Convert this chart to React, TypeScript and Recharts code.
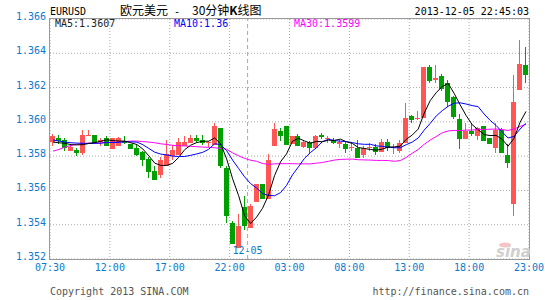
import {
  ComposedChart,
  Bar,
  Line,
  XAxis,
  YAxis,
  CartesianGrid,
  ReferenceLine,
  ReferenceArea,
} from "recharts";

// 30 minute EURUSD candles, 07:30 (12-04) .. 23:00 (12-05)
const timeLabels = ["07:30", "12:00", "17:00", "22:00", "03:00", "08:00", "13:00", "18:00", "23:00"];
const candlesPerLabel = 10;
const priceTicks = [1.352, 1.354, 1.356, 1.358, 1.36, 1.362, 1.364, 1.366];
const dayBreak = 33;
const dayLabel = "12-05";

const opens = [
  1.35884, 1.35906, 1.35892, 1.35832, 1.35835, 1.35816, 1.35918, 1.35921, 1.35884, 1.35904,
  1.35841, 1.35861, 1.35891, 1.35869, 1.3585, 1.35824, 1.35781, 1.35712, 1.35691, 1.35745,
  1.358, 1.35809, 1.35861, 1.35877, 1.35906, 1.35894, 1.35875, 1.35865, 1.35965, 1.35731,
  1.35412, 1.35266, 1.35506, 1.35382, 1.35535, 1.35635, 1.35551, 1.35862, 1.35947, 1.35976,
  1.35872, 1.35918, 1.35855, 1.35882, 1.35845, 1.35924, 1.359, 1.35897, 1.35872, 1.35872,
  1.3585, 1.35849, 1.35806, 1.35847, 1.35855, 1.35824, 1.35882, 1.35847, 1.35829, 1.35878,
  1.36035, 1.36018, 1.36025, 1.36319, 1.36243, 1.36265, 1.36224, 1.36147, 1.36018, 1.35902,
  1.35947, 1.35918, 1.35976, 1.35908, 1.35849, 1.3595, 1.35808, 1.3552, 1.36185, 1.36329,
];
const highs = [
  1.35928, 1.35924, 1.35908, 1.35871, 1.35849, 1.35953, 1.35953, 1.35926, 1.35906, 1.35918,
  1.35908, 1.35909, 1.35918, 1.35872, 1.35869, 1.35829, 1.35794, 1.35741, 1.35796, 1.35894,
  1.35863, 1.35908, 1.35916, 1.35924, 1.35925, 1.35924, 1.35891, 1.35996, 1.35966, 1.35741,
  1.35424, 1.35465, 1.35565, 1.35519, 1.35637, 1.35635, 1.3581, 1.35996, 1.35966, 1.35976,
  1.35919, 1.35931, 1.35888, 1.35888, 1.35924, 1.35937, 1.35918, 1.35908, 1.35892, 1.35888,
  1.35875, 1.35892, 1.35859, 1.35878, 1.35869, 1.35898, 1.35898, 1.35869, 1.35894, 1.36108,
  1.36039, 1.36065, 1.36319, 1.36333, 1.36332, 1.3628, 1.36245, 1.36153, 1.36045, 1.35996,
  1.35996, 1.35971, 1.35976, 1.35908, 1.35996, 1.35962, 1.35869, 1.36276, 1.36476, 1.36435,
];
const lows = [
  1.35861, 1.35872, 1.35829, 1.35829, 1.358, 1.35806, 1.35918, 1.35871, 1.35861, 1.35857,
  1.35841, 1.35857, 1.35869, 1.35841, 1.358, 1.35745, 1.35672, 1.35659, 1.35671, 1.35745,
  1.35775, 1.35809, 1.35861, 1.35875, 1.35879, 1.35863, 1.35855, 1.35863, 1.35731, 1.35408,
  1.3529, 1.35266, 1.35372, 1.35382, 1.35535, 1.35549, 1.35551, 1.35859, 1.35888, 1.35863,
  1.35872, 1.35859, 1.35845, 1.35812, 1.35845, 1.35898, 1.35878, 1.35872, 1.35849, 1.35819,
  1.35832, 1.3579, 1.3579, 1.35829, 1.35806, 1.35824, 1.35829, 1.3581, 1.35819, 1.35878,
  1.35996, 1.3601, 1.36025, 1.36225, 1.36226, 1.36182, 1.36084, 1.36016, 1.35844, 1.35902,
  1.35918, 1.35892, 1.35888, 1.35872, 1.35819, 1.35819, 1.35731, 1.35448, 1.36185, 1.36226,
];
const closes = [
  1.35919, 1.35888, 1.3585, 1.35853, 1.35818, 1.35924, 1.35925, 1.35875, 1.35892, 1.35861,
  1.35904, 1.35906, 1.35877, 1.35843, 1.35809, 1.35777, 1.35706, 1.35659, 1.35777, 1.35812,
  1.35835, 1.35882, 1.35882, 1.35908, 1.35888, 1.35874, 1.35882, 1.35976, 1.35741, 1.35449,
  1.3529, 1.35394, 1.35392, 1.35509, 1.35637, 1.35549, 1.35777, 1.35956, 1.35918, 1.35863,
  1.35919, 1.35862, 1.35881, 1.35849, 1.35919, 1.3591, 1.35906, 1.35878, 1.35884, 1.35844,
  1.35856, 1.3579, 1.3585, 1.35855, 1.35825, 1.35884, 1.35849, 1.35855, 1.35877, 1.36025,
  1.3601, 1.36025, 1.36319, 1.36241, 1.36255, 1.36192, 1.36115, 1.36029, 1.35902, 1.35947,
  1.35928, 1.35966, 1.35888, 1.35872, 1.3595, 1.35819, 1.35761, 1.36118, 1.36335, 1.36271,
];
const ma5 = [
  1.35882, 1.35878, 1.35875, 1.35867, 1.35866, 1.35867, 1.35874, 1.35879, 1.35887, 1.35895,
  1.35891, 1.35888, 1.35888, 1.35878, 1.35868, 1.35842, 1.35802, 1.35759, 1.35746, 1.35746,
  1.35758, 1.35793, 1.35838, 1.35864, 1.35879, 1.35887, 1.35887, 1.35906, 1.35872, 1.35784,
  1.35668, 1.3557, 1.35453, 1.35407, 1.35444, 1.35496, 1.35573, 1.35686, 1.35767, 1.35813,
  1.35887, 1.35904, 1.35889, 1.35875, 1.35886, 1.35884, 1.35893, 1.35892, 1.35899, 1.35884,
  1.35874, 1.3585, 1.35845, 1.35839, 1.35835, 1.35841, 1.35853, 1.35854, 1.35858, 1.35898,
  1.35923, 1.35958, 1.36051, 1.36124, 1.3617, 1.36206, 1.36224, 1.36166, 1.36099, 1.36037,
  1.35984, 1.35954, 1.35926, 1.3592, 1.35921, 1.35899, 1.35858, 1.35904, 1.35997, 1.36061,
];
const ma10 = [
  1.35894, 1.35888, 1.35882, 1.35878, 1.35876, 1.35875, 1.35875, 1.35875, 1.35876, 1.35881,
  1.35879, 1.35881, 1.35884, 1.35883, 1.35882, 1.35867, 1.35845, 1.35823, 1.35812, 1.35807,
  1.358, 1.35798, 1.35798, 1.35805, 1.35813, 1.35822, 1.3584, 1.35872, 1.35868, 1.35832,
  1.35777, 1.35728, 1.35679, 1.3564, 1.35614, 1.35582, 1.35571, 1.35569, 1.35587, 1.35629,
  1.35691, 1.35738, 1.35787, 1.35821, 1.35849, 1.35885, 1.35898, 1.35891, 1.35887, 1.35885,
  1.35879, 1.35872, 1.35869, 1.35869, 1.3586, 1.35857, 1.35852, 1.35849, 1.35849, 1.35867,
  1.35882, 1.35906, 1.35952, 1.35991, 1.36034, 1.36065, 1.36091, 1.36109, 1.36111, 1.36104,
  1.36095, 1.36089, 1.36046, 1.36009, 1.35979, 1.35942, 1.35906, 1.35915, 1.35958, 1.35991,
];
const ma30 = [
  1.35829, 1.35839, 1.35853, 1.35862, 1.35869, 1.35872, 1.35875, 1.35876, 1.35876, 1.35879,
  1.35881, 1.35882, 1.35885, 1.35888, 1.35888, 1.35885, 1.35882, 1.35878, 1.35872, 1.35868,
  1.35863, 1.35861, 1.35859, 1.35857, 1.35855, 1.35853, 1.35851, 1.35849, 1.35845, 1.3584,
  1.35819, 1.35802, 1.35787, 1.35776, 1.3577, 1.35757, 1.35752, 1.35755, 1.35756, 1.35756,
  1.35756, 1.35755, 1.35755, 1.35755, 1.35759, 1.35763, 1.3577, 1.35777, 1.35781, 1.35782,
  1.35783, 1.35779, 1.35778, 1.35777, 1.35775, 1.35775, 1.35774, 1.3577, 1.35774, 1.35793,
  1.35817, 1.35839, 1.35869, 1.35894, 1.35914, 1.35936, 1.35947, 1.3595, 1.35949, 1.35952,
  1.35952, 1.35956, 1.35956, 1.35957, 1.35958, 1.35955, 1.3595, 1.35958, 1.35973, 1.35987,
];

const data = closes.map((close, i) => ({
  x: i + 0.5,
  open: opens[i],
  high: highs[i],
  low: lows[i],
  close,
  range: [lows[i], highs[i]],
  ma5: ma5[i],
  ma10: ma10[i],
  ma30: ma30[i],
}));

const MONO = '"DejaVu Sans Mono", monospace';
const CJK = '"Noto Sans CJK SC", sans-serif';
const LABEL_BLUE = "#0a7ad0";
const UP = "#ff5555";
const DOWN = "#00a000";

// eslint-disable-next-line @typescript-eslint/no-explicit-any
function Candle(props: any) {
  const { x, y, width, height, payload } = props;
  if (x == null || !payload) return null;
  const { open, close, high, low } = payload;
  const color = close >= open ? UP : DOWN;
  const k = height / (high - low);
  const yOf = (v: number) => y + (high - v) * k;
  const top = Math.round(yOf(Math.max(open, close)));
  const bottom = Math.round(yOf(Math.min(open, close)));
  const left = Math.round(x);
  const w = Math.round(width);
  return (
    <g shapeRendering="crispEdges">
      <rect x={left + Math.floor(w / 2)} y={Math.round(y)} width={1} height={Math.max(1, Math.round(y + height) - Math.round(y))} fill={color} />
      <rect x={left} y={top} width={w} height={Math.max(1, bottom - top)} fill={color} />
    </g>
  );
}

// eslint-disable-next-line @typescript-eslint/no-explicit-any
function TimeTick({ x, y, payload }: any) {
  return (
    <text x={x} y={y + 8} textAnchor="middle" fontSize={10} fontFamily={MONO} fill={LABEL_BLUE}>
      {timeLabels[Math.round(payload.value / candlesPerLabel)]}
    </text>
  );
}

// eslint-disable-next-line @typescript-eslint/no-explicit-any
function PriceTick({ x, y, payload }: any) {
  return (
    <text x={x} y={y + 1} textAnchor="end" fontSize={10} fontFamily={MONO} fill={LABEL_BLUE}>
      {Number(payload.value).toFixed(3)}
    </text>
  );
}

// eslint-disable-next-line @typescript-eslint/no-explicit-any
function Frame(props: any) {
  const { x, y, width, height } = props;
  return (
    <rect
      x={Math.round(x) - 0.5}
      y={Math.round(y) - 0.5}
      width={Math.round(width) + 1}
      height={Math.round(height) + 1}
      fill="none"
      stroke="#999"
      strokeWidth={1}
    />
  );
}

export default function App() {
  return (
    <div style={{ position: "absolute", left: 0, top: 0, width: 545, height: 300, background: "#fff" }}>
      <ComposedChart width={545} height={300} data={data} margin={{ top: 19, right: 16, bottom: 21, left: 0 }}>
        <CartesianGrid stroke="#aaa" strokeDasharray="1 2" />
        <XAxis
          type="number"
          dataKey="x"
          domain={[0, timeLabels.length * candlesPerLabel - candlesPerLabel]}
          ticks={timeLabels.map((_, i) => i * candlesPerLabel)}
          interval={0}
          height={20}
          tickSize={4}
          tickMargin={0}
          axisLine={false}
          tickLine={false}
          tick={<TimeTick />}
          allowDataOverflow
        />
        <YAxis
          type="number"
          domain={[1.352, 1.366]}
          ticks={priceTicks}
          interval={0}
          width={50}
          tickSize={4}
          tickMargin={0}
          axisLine={false}
          tickLine={false}
          tick={<PriceTick />}
          allowDataOverflow
        />
        <ReferenceLine
          x={dayBreak}
          stroke="#aaa"
          strokeDasharray="4 3"
          label={{ value: dayLabel, position: "insideBottom", offset: 5, fill: LABEL_BLUE, fontSize: 10, fontFamily: MONO }}
        />
        <Bar dataKey="range" barSize={5} shape={(p: unknown) => <Candle {...(p as object)} />} isAnimationActive={false} />
        <Line type="linear" dataKey="ma30" stroke="#ff00ff" strokeWidth={1} dot={false} activeDot={false} isAnimationActive={false} />
        <Line type="linear" dataKey="ma10" stroke="#0000ff" strokeWidth={1} dot={false} activeDot={false} isAnimationActive={false} />
        <Line type="linear" dataKey="ma5" stroke="#000" strokeWidth={1} dot={false} activeDot={false} isAnimationActive={false} />
        <ReferenceArea x1={0} x2={80} y1={1.352} y2={1.366} shape={<Frame />} />
      </ComposedChart>

      <svg width={545} height={300} style={{ position: "absolute", left: 0, top: 0, pointerEvents: "none" }}>
        <text x={50} y={15} fontSize={10} fontFamily={MONO} fill="#000">EURUSD</text>
        <text x={120} y={15} fontSize={12} fontFamily={CJK} fill="#000">欧元美元</text>
        <text x={174} y={15} fontSize={10} fontFamily={MONO} fill="#000">-</text>
        <text x={192} y={15} fontSize={12} fontFamily={CJK} fill="#000">
          30分钟<tspan fontWeight="bold">K</tspan>线图
        </text>
        <text x={529} y={15} textAnchor="end" fontSize={10} fontFamily={MONO} fill="#000">2013-12-05 22:45:03</text>

        <text x={55} y={27} fontSize={10} fontFamily={MONO} fill="#222">MA5:1.3607</text>
        <text x={174} y={27} fontSize={10} fontFamily={MONO} fill="#0000ff">MA10:1.36</text>
        <text x={294} y={27} fontSize={10} fontFamily={MONO} fill="#ff00ff">MA30:1.3599</text>

        <ellipse cx={505} cy={245} rx={6} ry={2.5} fill="#f6c4c4" />
        <text x={496} y={257} fontSize={15} fontStyle="italic" fontWeight="bold" fontFamily='"DejaVu Sans", sans-serif' fill="#d0d0d0">sina</text>

        <text x={50} y={295} fontSize={10} fontFamily={MONO} fill="#555">Copyright 2013 SINA.COM</text>
        <text x={529} y={295} textAnchor="end" fontSize={10} fontFamily={MONO} fill="#555">http://finance.sina.com.cn</text>
      </svg>
    </div>
  );
}
